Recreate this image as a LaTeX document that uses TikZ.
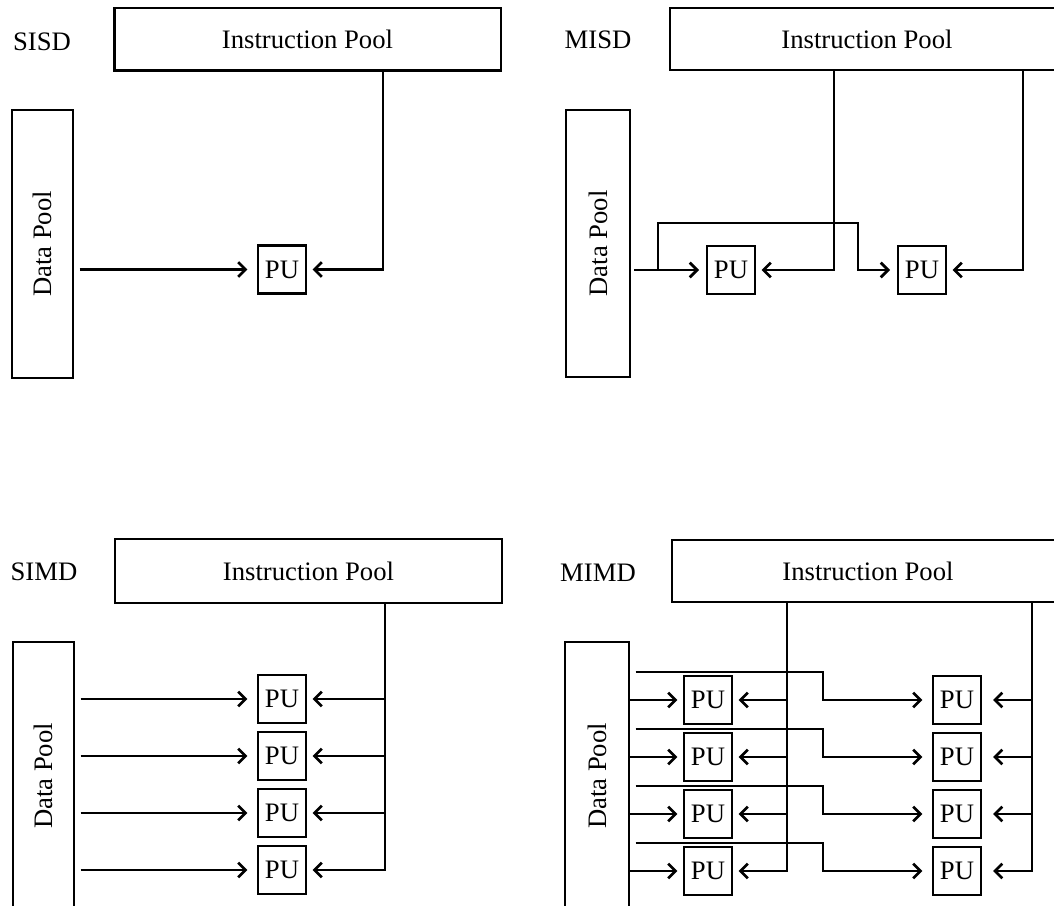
\documentclass[tikz,border=0pt]{standalone}
\usepackage{fontspec}
\setmainfont{Liberation Serif}
\usepackage{graphicx}
\usetikzlibrary{arrows.meta}
\begin{document}
\begin{tikzpicture}[x=0.75pt,y=-0.75pt,
  box/.style={draw, line width=2pt, inner sep=0pt, font=\fontsize{20}{23}\selectfont},
  pu/.style={box, minimum width=36pt, minimum height=36pt},
  lbl/.style={font=\fontsize{20}{23}\selectfont},
  ln/.style={line width=2pt},
  arr/.style={line width=2pt, -{Straight Barb[length=5.5pt,width=11pt]}, shorten >=4pt}]
\useasboundingbox (0,0) rectangle (1054,906);
\clip (0,0) rectangle (1054,906);

% ---------------- SISD ----------------
\node[lbl] (t1) at (42,42) {SISD};
\node[box, minimum width=290pt, minimum height=47pt] (ip1) at (307.5,39.5) {Instruction Pool};
\node[box, minimum width=45.75pt, minimum height=201pt] (dp1) at (42.5,244) {\rotatebox{90}{Data Pool}};
\node[pu] (p1) at (282,269.5) {PU};
\draw[arr, shorten <=4pt, shorten >=7pt] (dp1.east |- p1) -- (p1.west);
\coordinate (c1) at (383,71);
\draw[arr] (c1) |- (p1.east);

% ---------------- MISD ----------------
\node[lbl] (t2) at (598,40) {MISD};
\node[box, minimum width=295.5pt, minimum height=46.5pt] (ip2) at (867,39) {Instruction Pool};
\node[box, minimum width=48pt, minimum height=200pt] (dp2) at (598,243.5) {\rotatebox{90}{Data Pool}};
\node[pu] (p21) at (731,270) {PU};
\node[pu] (p22) at (922,270) {PU};
\coordinate (j2) at (658,270);
\coordinate (k2) at (858,223);
\draw[arr, shorten <=2pt, shorten >=5pt] (dp2.east |- p21) -- (p21.west);
\draw[arr, shorten >=5pt] (j2) |- (k2) |- (p22.west);
\coordinate (a2) at (834,70);
\coordinate (b2) at (1023,70);
\draw[arr] (a2) |- (p21.east);
\draw[arr] (b2) |- (p22.east);

% ---------------- SIMD ----------------
\node[lbl] (t3) at (44,572) {SIMD};
\node[box, minimum width=290.25pt, minimum height=48pt] (ip3) at (308.5,571) {Instruction Pool};
\node[box, minimum width=45.75pt, minimum height=201pt] (dp3) at (43.5,776) {\rotatebox{90}{Data Pool}};
\coordinate (c3) at (385,603);
\foreach \k/\y in {1/699,2/756,3/813,4/870}{
  \node[pu] (p3\k) at (282,\y) {PU};
  \draw[arr, shorten <=4pt, shorten >=7pt] (dp3.east |- p3\k) -- (p3\k.west);
}
\draw[arr] (c3) |- (p34.east);
\foreach \k in {1,2,3}{
  \draw[arr] (c3 |- p3\k) -- (p3\k.east);
}

% ---------------- MIMD ----------------
\node[lbl] (t4) at (598,573) {MIMD};
\node[box, minimum width=294pt, minimum height=46.5pt] (ip4) at (868,571) {Instruction Pool};
\node[box, minimum width=48pt, minimum height=201pt] (dp4) at (597,776) {\rotatebox{90}{Data Pool}};
\coordinate (c4) at (787,602);
\coordinate (d4) at (1032,602);
\foreach \k/\y in {1/700,2/757,3/814,4/871}{
  \node[pu] (q\k) at (708,\y) {PU};
  \node[pu] (r\k) at (957,\y) {PU};
  \coordinate (u\k) at (823,\y-28);
  \draw[arr] (dp4.east |- q\k) -- (q\k.west);
  \draw[arr, shorten <=4pt, shorten >=7pt] (dp4.east |- u\k) -- (u\k) |- (r\k.west);
}
\draw[arr] (c4) |- (q4.east);
\draw[arr, shorten >=8pt] (d4) |- (r4.east);
\foreach \k in {1,2,3}{
  \draw[arr] (c4 |- q\k) -- (q\k.east);
  \draw[arr, shorten >=8pt] (d4 |- r\k) -- (r\k.east);
}
\end{tikzpicture}
\end{document}
